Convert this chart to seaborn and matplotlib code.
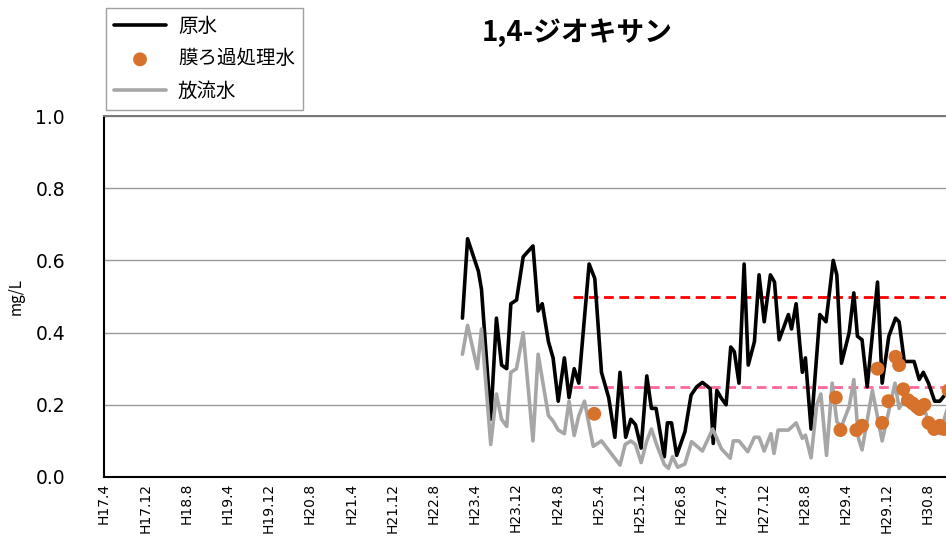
import numpy as np
import pandas as pd
import seaborn as sns
import matplotlib.pyplot as plt

# months counted from H17.4
raw_month = [69.6, 70.6, 72.7, 73.3, 75.1, 76.2, 77.2, 78.2, 79.0, 80.1, 81.4, 83.3, 84.3, 85.1,
             86.3, 87.2, 88.2, 89.4, 90.3, 91.3, 92.2, 94.2, 95.3, 96.6, 98.0, 99.2, 100.2, 101.3,
             102.3, 103.2, 104.3, 105.4, 106.3, 107.2, 108.8, 109.4, 110.2, 111.2, 112.8, 114.0,
             115.1, 116.2, 117.7, 118.3, 119.0, 119.8, 120.8, 121.7, 122.4, 123.3, 124.3, 125.1,
             126.3, 127.2, 128.2, 129.4, 130.2, 131.1, 132.9, 133.5, 134.4, 135.6, 136.2, 137.3,
             139.0, 140.2, 141.6, 142.3, 143.2, 144.7, 145.6, 146.3, 147.2, 148.2, 150.2, 151.1,
             152.4, 153.7, 154.4, 155.4, 157.3, 158.3, 159.1, 160.1, 161.3, 162.3, 164.0]
raw_val = [0.44, 0.66, 0.57, 0.52, 0.16, 0.44, 0.31, 0.30, 0.48, 0.49, 0.61, 0.64, 0.46, 0.48,
           0.375, 0.33, 0.21, 0.33, 0.22, 0.30, 0.26, 0.59, 0.55, 0.29, 0.22, 0.11, 0.29, 0.11,
           0.16, 0.145, 0.08, 0.28, 0.19, 0.19, 0.056, 0.15, 0.15, 0.06, 0.125, 0.227,
           0.25, 0.262, 0.245, 0.093, 0.24, 0.22, 0.20, 0.36, 0.347, 0.26, 0.59, 0.31,
           0.375, 0.56, 0.43, 0.56, 0.54, 0.38, 0.45, 0.41, 0.48, 0.29, 0.33, 0.133,
           0.45, 0.43, 0.60, 0.56, 0.315, 0.40, 0.51, 0.39, 0.38, 0.25, 0.54, 0.26,
           0.39, 0.44, 0.43, 0.32, 0.32, 0.27, 0.29, 0.26, 0.21, 0.21, 0.24]

out_month = [69.6, 70.6, 72.5, 73.3, 75.1, 76.2, 77.2, 78.2, 79.0, 80.1, 81.4, 83.3, 84.3, 86.3,
             87.2, 88.2, 89.4, 90.3, 91.3, 92.2, 93.3, 95.0, 96.6, 100.2, 101.2, 102.3, 103.2,
             104.3, 105.4, 106.3, 107.3, 108.8, 109.6, 110.4, 111.4, 112.8, 114.1, 116.2, 118.2,
             119.9, 121.6, 122.2, 123.3, 125.0, 126.3, 127.2, 128.2, 129.5, 130.1, 130.9, 132.9,
             134.4, 135.6, 136.2, 137.3, 138.4, 139.2, 140.3, 141.4, 142.3, 143.2, 144.7, 145.6,
             146.5, 147.2, 149.2, 151.1, 153.6, 154.4, 155.2, 156.3, 157.3, 158.3, 159.1, 160.1,
             161.3, 162.3, 164.0]
out_val = [0.34, 0.42, 0.30, 0.41, 0.09, 0.23, 0.16, 0.14, 0.29, 0.30, 0.40, 0.10, 0.34, 0.17,
           0.155, 0.13, 0.12, 0.21, 0.115, 0.17, 0.21, 0.085, 0.10, 0.033, 0.09, 0.10, 0.09,
           0.04, 0.10, 0.133, 0.09, 0.035, 0.024, 0.056, 0.027, 0.036, 0.098, 0.072, 0.133,
           0.078, 0.052, 0.10, 0.10, 0.07, 0.11, 0.11, 0.072, 0.12, 0.065, 0.13, 0.13,
           0.15, 0.107, 0.116, 0.053, 0.20, 0.23, 0.06, 0.26, 0.153, 0.14, 0.195, 0.27,
           0.107, 0.075, 0.24, 0.10, 0.26, 0.19, 0.21, 0.22, 0.20, 0.19, 0.20, 0.15,
           0.13, 0.12, 0.20]

mem_month = [95.2, 142.1, 143.0, 146.1, 147.2, 150.2, 151.1, 152.3, 153.7, 154.4, 155.2, 156.1,
             157.0, 157.8, 158.4, 159.3, 160.1, 161.2, 162.3, 163.1, 164.0]
mem_val = [0.175, 0.22, 0.13, 0.13, 0.142, 0.30, 0.15, 0.21, 0.333, 0.31, 0.243, 0.213,
           0.204, 0.195, 0.188, 0.20, 0.15, 0.133, 0.142, 0.133, 0.24]

ref_levels = [0.5, 0.25]
ref_colors = ['#FF0000', '#FF6699']
ref_start = 91

tick_months = list(range(0, 161, 8))
tick_labels = ['H17.4', 'H17.12', 'H18.8', 'H19.4', 'H19.12', 'H20.8', 'H21.4', 'H21.12',
               'H22.8', 'H23.4', 'H23.12', 'H24.8', 'H25.4', 'H25.12', 'H26.8', 'H27.4',
               'H27.12', 'H28.8', 'H29.4', 'H29.12', 'H30.8']

df_raw = pd.DataFrame({'month': raw_month, 'val': raw_val})
df_out = pd.DataFrame({'month': out_month, 'val': out_val})
df_mem = pd.DataFrame({'month': mem_month, 'val': mem_val})

sns.set_style('white')
plt.rcParams['font.family'] = ['Noto Sans CJK JP', 'DejaVu Sans']
plt.rcParams['text.color'] = 'black'
plt.rcParams['xtick.color'] = 'black'
plt.rcParams['ytick.color'] = 'black'
plt.rcParams['axes.labelcolor'] = 'black'

fig = plt.figure(figsize=(9.46, 5.37), dpi=100)
ax = fig.add_axes([104 / 946, 1 - 477 / 537, 1 - 104 / 946, (477 - 116) / 537])

# reference levels
for lv, c in zip(ref_levels, ref_colors):
    ax.hlines(lv, ref_start, 170, colors=c, linestyles=(0, (3.5, 2)), linewidth=2, zorder=2)

sns.lineplot(data=df_raw, x='month', y='val', ax=ax, color='black', linewidth=2.6,
             label='原水', estimator=None, sort=False, zorder=3)
sns.scatterplot(data=df_mem, x='month', y='val', ax=ax, color='#D6722C', s=100,
                edgecolor='none', label='膜ろ過処理水', zorder=5)
sns.lineplot(data=df_out, x='month', y='val', ax=ax, color='#A6A6A6', linewidth=2.6,
             label='放流水', estimator=None, sort=False, zorder=4)

ax.set_xlim(0, 163.5)
ax.set_ylim(0, 1.0)
ax.set_yticks([0, 0.2, 0.4, 0.6, 0.8, 1.0])
ax.set_yticklabels(['0.0', '0.2', '0.4', '0.6', '0.8', '1.0'], fontsize=13.5,
                   family=['DejaVu Sans'])
ax.set_xticks(tick_months)
ax.set_xticklabels(tick_labels, rotation=90, fontsize=10, family=['DejaVu Sans'])
ax.tick_params(axis='x', direction='in', length=4, width=0.8, color='black', pad=4)
ax.tick_params(axis='y', length=0, pad=28)
ax.grid(axis='y', color='#999999', linewidth=1)
ax.set_xlabel('')
ax.set_ylabel('mg/L', fontsize=11, labelpad=8)

for s in ['left', 'bottom']:
    ax.spines[s].set_color('black')
    ax.spines[s].set_linewidth(1.5)
ax.spines['top'].set_color('#777777')
ax.spines['top'].set_linewidth(1.4)
ax.spines['right'].set_visible(False)

h, l = ax.get_legend_handles_labels()
ax.legend_.remove()
order = [l.index('原水'), l.index('膜ろ過処理水'), l.index('放流水')]
leg = fig.legend([h[i] for i in order], [l[i] for i in order], loc='upper left',
                 bbox_to_anchor=(106 / 946, 1 - 8 / 537), fontsize=14, frameon=True,
                 fancybox=False, edgecolor='#A0A0A0', framealpha=1, handlelength=2.7,
                 labelspacing=0.6, borderpad=0.4, handletextpad=0.6, borderaxespad=0)
leg.get_frame().set_linewidth(1)

fig.text(577 / 946, 1 - 33 / 537, '1,4-ジオキサン', ha='center', va='center',
         fontsize=20, fontweight='bold')

fig.savefig('out.png', dpi=100)
